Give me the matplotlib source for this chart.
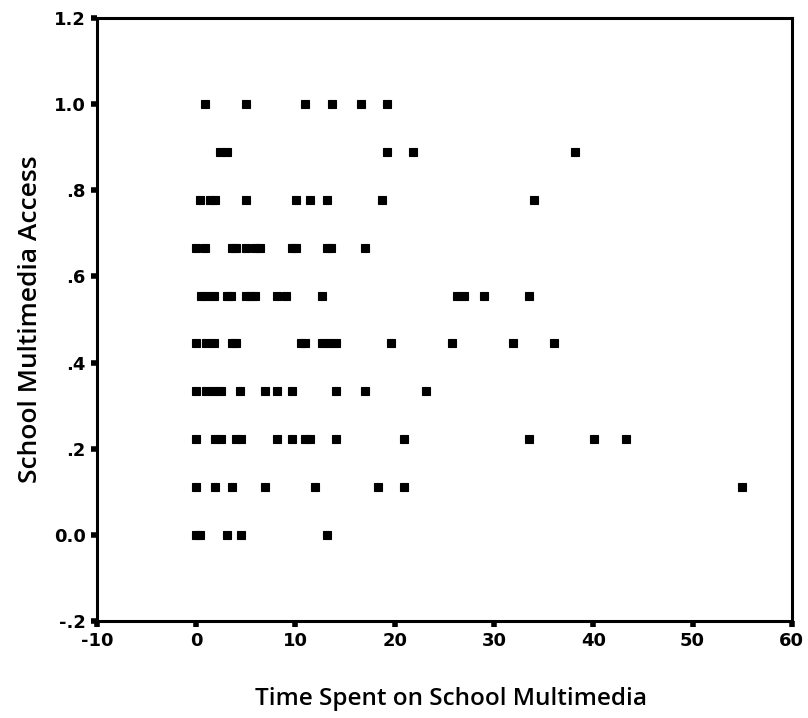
import matplotlib
matplotlib.use("Agg")
import matplotlib.pyplot as plt
import numpy as np

# access score comes in ninths (0/9 .. 9/9); time values per level
time_by_level = {
    0: [0.0, 0.4, 3.1, 4.5, 13.2],
    1: [0.0, 1.9, 3.6, 6.9, 12.0, 18.3, 20.9, 55.0],
    2: [0.0, 1.9, 2.5, 4.0, 4.5, 8.1, 9.6, 11.0, 11.5, 14.1, 20.9, 33.5, 40.1, 43.3],
    3: [0.0, 0.95, 1.8, 2.5, 4.4, 6.9, 8.1, 9.6, 14.1, 17.0, 23.1],
    4: [0.0, 1.0, 1.8, 3.6, 4.0, 10.6, 11.0, 12.7, 13.4, 14.1, 19.6, 25.8, 31.9, 36.0],
    5: [0.45, 1.1, 1.8, 3.1, 3.5, 5.0, 5.4, 5.9, 8.1, 9.0, 12.7, 26.3, 27.0, 29.0, 33.5],
    6: [0.0, 0.9, 3.6, 4.0, 5.0, 5.9, 6.4, 9.6, 10.1, 13.2, 13.6, 17.0],
    7: [0.4, 1.4, 1.9, 5.0, 10.1, 11.5, 13.2, 18.7, 34.0],
    8: [2.4, 3.1, 19.2, 21.8, 38.2],
    9: [0.9, 5.0, 11.0, 13.7, 16.6, 19.2],
}

x_ticks = [-10, 0, 10, 20, 30, 40, 50, 60]
y_ticks = [-0.2, 0.0, 0.2, 0.4, 0.6, 0.8, 1.0, 1.2]
y_tick_labels = ["-.2", "0.0", ".2", ".4", ".6", ".8", "1.0", "1.2"]

xs, ys = [], []
for level, times in time_by_level.items():
    xs.extend(times)
    ys.extend([level / 9] * len(times))

fig = plt.figure(figsize=(8.08, 7.18), dpi=100)
ax = fig.add_axes([0.120, 0.135, 0.860, 0.840])

ax.plot(xs, ys, linestyle="none", marker="s", markersize=5.5,
        color="black", markeredgewidth=0.8)

ax.set_xlim(-10, 60)
ax.set_ylim(-0.2, 1.2)
ax.set_xticks(x_ticks)
ax.set_xticklabels([str(t) for t in x_ticks])
ax.set_yticks(y_ticks)
ax.set_yticklabels(y_tick_labels)

for s in ax.spines.values():
    s.set_linewidth(2.2)
ax.tick_params(direction="out", length=4, width=4, pad=4)
for lbl in ax.get_xticklabels() + ax.get_yticklabels():
    lbl.set_fontweight("bold")
    lbl.set_fontsize(13)
    lbl.set_family("DejaVu Sans")

ax.set_xlabel("Time Spent on School Multimedia", fontsize=17.5,
              family="Open Sans", fontweight="semibold")
ax.set_ylabel("School Multimedia Access", fontsize=19,
              family="Open Sans", fontweight="semibold")
ax.xaxis.set_label_coords(0.51, -0.11)
ax.yaxis.set_label_coords(-0.078, 0.5)

fig.savefig("out.png", dpi=100)
